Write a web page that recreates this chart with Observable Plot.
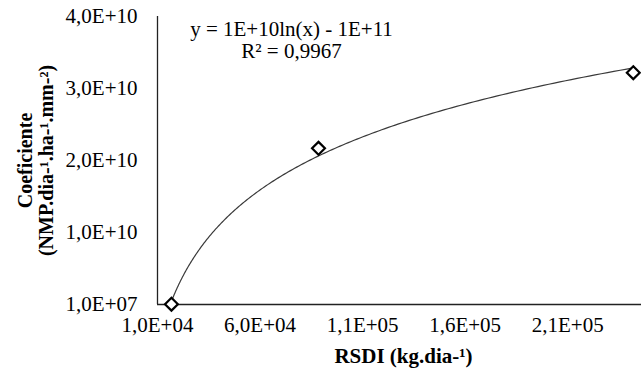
<!DOCTYPE html>
<html>
<head>
<meta charset="utf-8">
<script src="https://cdn.jsdelivr.net/npm/d3@7"></script>
<script src="https://cdn.jsdelivr.net/npm/@observablehq/plot@0.6"></script>
<style>
  html, body { margin: 0; padding: 0; background: #fff; }
  svg text { font-family: "Liberation Serif", "Times New Roman", serif; fill: #000; }
</style>
</head>
<body>
<div id="chart"></div>
<script>
// Data
const xValues = [16800, 88500, 242000];
const yValues = [5e7, 2.17e10, 3.22e10];

const xTicks = [1e4, 6e4, 1.1e5, 1.6e5, 2.1e5];
const xTickLabels = ["1,0E+04", "6,0E+04", "1,1E+05", "1,6E+05", "2,1E+05"];
const yTicks = [1e7, 1.0001e10, 2.0001e10, 3.0001e10, 4.0001e10];
const yTickLabels = ["1,0E+07", "1,0E+10", "2,0E+10", "3,0E+10", "4,0E+10"];

const equationLines = ["y = 1E+10ln(x) - 1E+11", "R² = 0,9967"];
const xTitle = "RSDI (kg.dia-¹)";
const yTitleLines = ["Coeficiente", "(NMP.dia-¹.ha-¹.mm-²)"];

const points = xValues.map((x, i) => ({x, y: yValues[i]}));

// Logarithmic trendline (least squares on ln x), like the spreadsheet's trendline
const lx = xValues.map(Math.log);
const mx = d3.mean(lx), my = d3.mean(yValues);
const a = d3.sum(lx, (v, i) => (v - mx) * (yValues[i] - my)) / d3.sum(lx, v => (v - mx) ** 2);
const b = my - a * mx;
const x0 = d3.min(xValues), x1 = d3.max(xValues);
const trend = d3.range(0, 201).map(i => {
  const x = x0 * Math.pow(x1 / x0, i / 200);
  return {x, y: a * Math.log(x) + b};
});

const font = "Liberation Serif";

const chart = Plot.plot({
  width: 641,
  height: 368,
  marginLeft: 157,
  marginRight: 0,
  marginTop: 16,
  marginBottom: 64,
  style: {fontFamily: font, fontSize: "21px", color: "#000", background: "#fff", overflow: "visible"},
  x: {domain: [1e4, 2.46e5]},
  y: {domain: [1e7, 4.0001e10]},
  marks: [
    Plot.axisX({ticks: xTicks, tickFormat: d => xTickLabels[xTicks.indexOf(d)], tickSize: 0, tickPadding: 13, label: null, fontSize: 21, fontFamily: font}),
    Plot.axisY({ticks: yTicks, tickFormat: d => yTickLabels[yTicks.indexOf(d)], tickSize: 0, tickPadding: 20, label: null, fontSize: 21, fontFamily: font}),
    Plot.ruleX([xTicks[0]], {stroke: "#222", strokeWidth: 1.3}),
    Plot.ruleY([yTicks[0]], {stroke: "#222", strokeWidth: 1.3}),
    Plot.line(trend, {x: "x", y: "y", stroke: "#3a3a3a", strokeWidth: 1.2}),
    Plot.dot(points, {x: "x", y: "y", symbol: "diamond2", r: 5.8, stroke: "#000", strokeWidth: 2.2, fill: "#fff"}),
    Plot.text([equationLines.join("\n")], {frameAnchor: "top-left", textAnchor: "middle", lineAnchor: "middle", dx: 134, dy: 23, lineHeight: 1.05, fontSize: 21, fontFamily: font}),
    Plot.text([xTitle], {frameAnchor: "bottom", textAnchor: "middle", lineAnchor: "middle", dx: 4, dy: 52, fontWeight: "bold", fontSize: 21, fontFamily: font}),
    Plot.text([yTitleLines[0]], {frameAnchor: "left", textAnchor: "middle", lineAnchor: "middle", rotate: -90, dx: -132, fontWeight: "bold", fontSize: 20, fontFamily: font}),
    Plot.text([yTitleLines[1]], {frameAnchor: "left", textAnchor: "middle", lineAnchor: "middle", rotate: -90, dx: -111, fontWeight: "bold", fontSize: 20, fontFamily: font})
  ]
});

document.getElementById("chart").appendChild(chart);
</script>
</body>
</html>
